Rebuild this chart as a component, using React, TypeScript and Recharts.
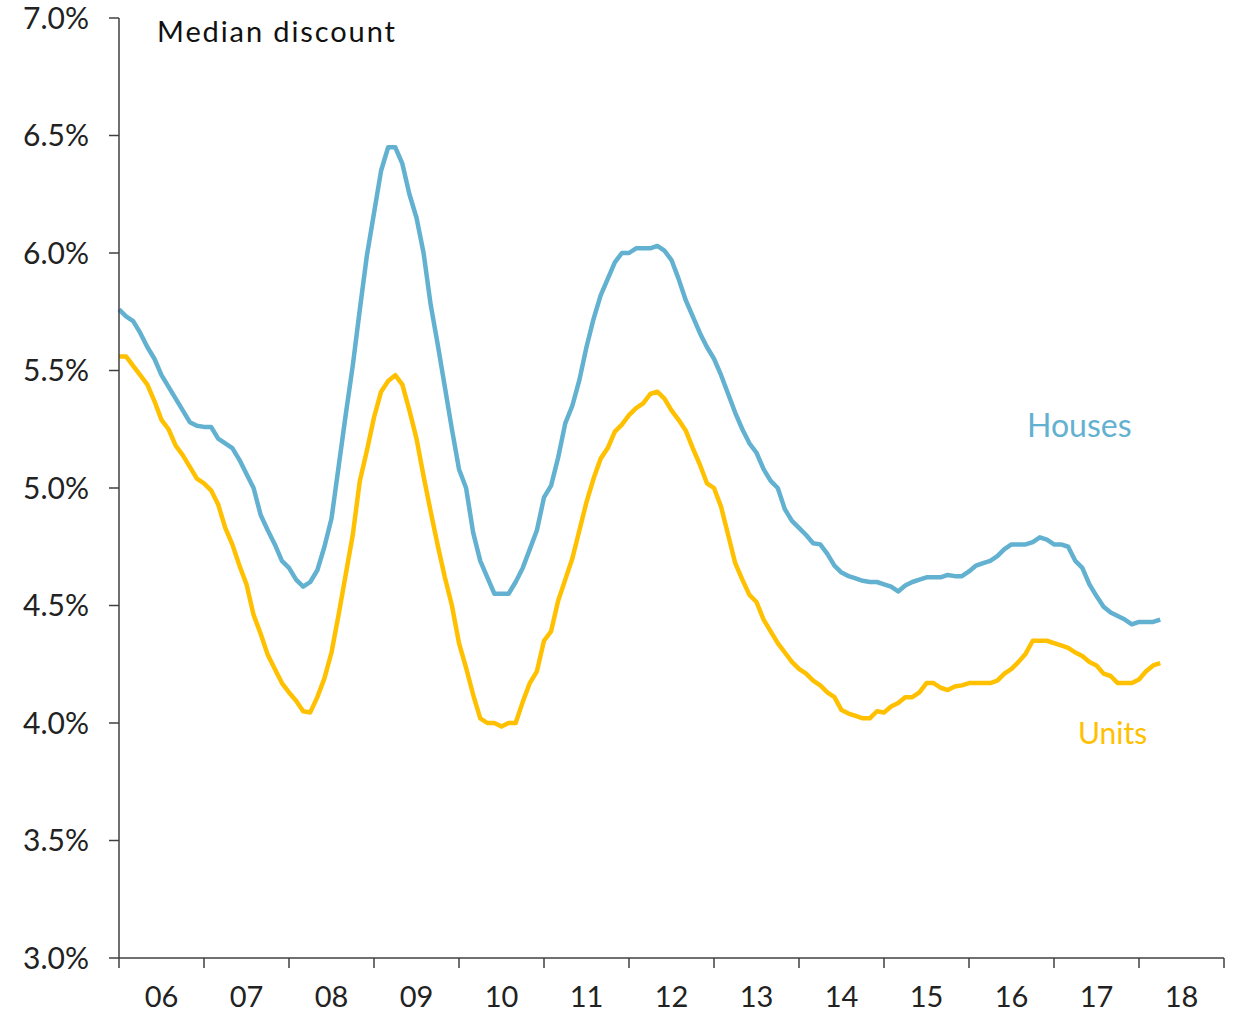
import React from 'react';
import { LineChart, Line, XAxis, YAxis } from 'recharts';

// monthly values, Jan 2006 .. Apr 2018
const yearLabels = ['06', '07', '08', '09', '10', '11', '12', '13', '14', '15', '16', '17', '18'];

const houses = [
  5.76, 5.73, 5.71, 5.66, 5.60, 5.55, 5.48, 5.43, 5.38, 5.33, 5.28, 5.265,
  5.26, 5.26, 5.21, 5.19, 5.17, 5.12, 5.06, 5.00, 4.885, 4.82, 4.76, 4.69,
  4.66, 4.61, 4.58, 4.60, 4.65, 4.75, 4.87, 5.09, 5.31, 5.52, 5.76, 5.99,
  6.17, 6.35, 6.45, 6.45, 6.38, 6.25, 6.15, 6.00, 5.78, 5.61, 5.43, 5.25,
  5.08, 5.00, 4.81, 4.69, 4.62, 4.55, 4.55, 4.55, 4.60, 4.66, 4.74, 4.82,
  4.96, 5.01, 5.13, 5.275, 5.35, 5.46, 5.60, 5.72, 5.82, 5.89, 5.96, 6.00,
  6.00, 6.02, 6.02, 6.02, 6.03, 6.01, 5.97, 5.89, 5.80, 5.73, 5.66, 5.60,
  5.55, 5.48, 5.40, 5.32, 5.25, 5.19, 5.15, 5.08, 5.03, 5.00, 4.91, 4.86,
  4.83, 4.80, 4.765, 4.76, 4.72, 4.67, 4.64, 4.625, 4.615, 4.605, 4.60, 4.60,
  4.59, 4.58, 4.56, 4.585, 4.60, 4.61, 4.62, 4.62, 4.62, 4.63, 4.625, 4.625,
  4.645, 4.67, 4.68, 4.69, 4.71, 4.74, 4.76, 4.76, 4.76, 4.77, 4.79, 4.78,
  4.76, 4.76, 4.75, 4.69, 4.66, 4.59, 4.54, 4.495, 4.47, 4.455, 4.44, 4.42,
  4.43, 4.43, 4.43, 4.44,
];

const units = [
  5.56, 5.56, 5.52, 5.48, 5.44, 5.37, 5.29, 5.25, 5.18, 5.14, 5.09, 5.04,
  5.02, 4.99, 4.93, 4.83, 4.76, 4.67, 4.59, 4.46, 4.38, 4.29, 4.23, 4.17,
  4.13, 4.095, 4.05, 4.045, 4.11, 4.19, 4.30, 4.46, 4.63, 4.80, 5.03, 5.16,
  5.30, 5.41, 5.455, 5.48, 5.44, 5.33, 5.21, 5.05, 4.90, 4.755, 4.62, 4.50,
  4.34, 4.235, 4.12, 4.02, 4.00, 4.00, 3.985, 4.00, 4.00, 4.09, 4.17, 4.22,
  4.35, 4.39, 4.52, 4.61, 4.70, 4.82, 4.94, 5.04, 5.125, 5.17, 5.24, 5.27,
  5.31, 5.34, 5.36, 5.40, 5.41, 5.38, 5.33, 5.29, 5.245, 5.17, 5.10, 5.02,
  5.00, 4.92, 4.80, 4.68, 4.61, 4.545, 4.515, 4.44, 4.39, 4.34, 4.30, 4.26,
  4.23, 4.21, 4.18, 4.16, 4.13, 4.11, 4.055, 4.04, 4.03, 4.02, 4.02, 4.05,
  4.045, 4.07, 4.085, 4.11, 4.11, 4.13, 4.17, 4.17, 4.15, 4.14, 4.155, 4.16,
  4.17, 4.17, 4.17, 4.17, 4.18, 4.21, 4.23, 4.26, 4.295, 4.35, 4.35, 4.35,
  4.34, 4.33, 4.32, 4.30, 4.285, 4.26, 4.245, 4.21, 4.20, 4.17, 4.17, 4.17,
  4.185, 4.22, 4.245, 4.255,
];

const yTicks = [3.0, 3.5, 4.0, 4.5, 5.0, 5.5, 6.0, 6.5, 7.0];

const data = houses.map((h, i) => ({ month: i, houses: h, units: units[i] }));
const xTicks = [...yearLabels.map((_, i) => i * 12), yearLabels.length * 12];

const FONT = 'Lato, "Open Sans", sans-serif';
const AXIS = '#404040';
const BLUE = '#62b1d0';
const GOLD = '#ffc000';

const YearTick = (props: any) => {
  const { x, y, payload } = props;
  const idx = payload.value / 12;
  if (idx >= yearLabels.length) return <g />;
  return (
    <text x={x + 42.5} y={y} dy="0.71em" textAnchor="middle" fill="#222" fontSize={29} fontFamily={FONT}>
      {yearLabels[idx]}
    </text>
  );
};

export default function App() {
  return (
    <div style={{ position: 'relative', width: 1241, height: 1018, fontFamily: FONT, background: '#fff' }}>
      <style>{'body{margin:0;overflow:hidden}'}</style>
      <LineChart width={1241} height={1018} data={data} margin={{ top: 18, right: 17, left: 0, bottom: 0 }}>
        <XAxis
          dataKey="month"
          type="number"
          domain={[0, yearLabels.length * 12]}
          ticks={xTicks}
          interval={0}
          tick={<YearTick />}
          tickSize={10}
          tickMargin={18}
          height={60}
          axisLine={{ stroke: AXIS, strokeWidth: 1.5 }}
          tickLine={{ stroke: AXIS, strokeWidth: 1.5 }}
        />
        <YAxis
          type="number"
          domain={[3, 7]}
          ticks={yTicks}
          interval={0}
          width={119}
          tickSize={10}
          tickMargin={20}
          tickFormatter={(v: number) => v.toFixed(1) + '%'}
          tick={{ fill: '#222', fontSize: 30, fontFamily: FONT }}
          axisLine={{ stroke: AXIS, strokeWidth: 1.5 }}
          tickLine={{ stroke: AXIS, strokeWidth: 1.5 }}
        />
        <Line type="linear" dataKey="houses" stroke={BLUE} strokeWidth={4.5} dot={false} isAnimationActive={false} strokeLinejoin="round" />
        <Line type="linear" dataKey="units" stroke={GOLD} strokeWidth={4.5} dot={false} isAnimationActive={false} strokeLinejoin="round" />
      </LineChart>
      <div style={{ position: 'absolute', left: 157, top: 16, fontSize: 29, lineHeight: 1, letterSpacing: 1.9, color: '#111', whiteSpace: 'nowrap' }}>
        Median discount
      </div>
      <div style={{ position: 'absolute', left: 1027, top: 409, fontSize: 32, lineHeight: 1, color: BLUE }}>Houses</div>
      <div style={{ position: 'absolute', left: 1078, top: 717, fontSize: 30, lineHeight: 1, color: GOLD }}>Units</div>
    </div>
  );
}
